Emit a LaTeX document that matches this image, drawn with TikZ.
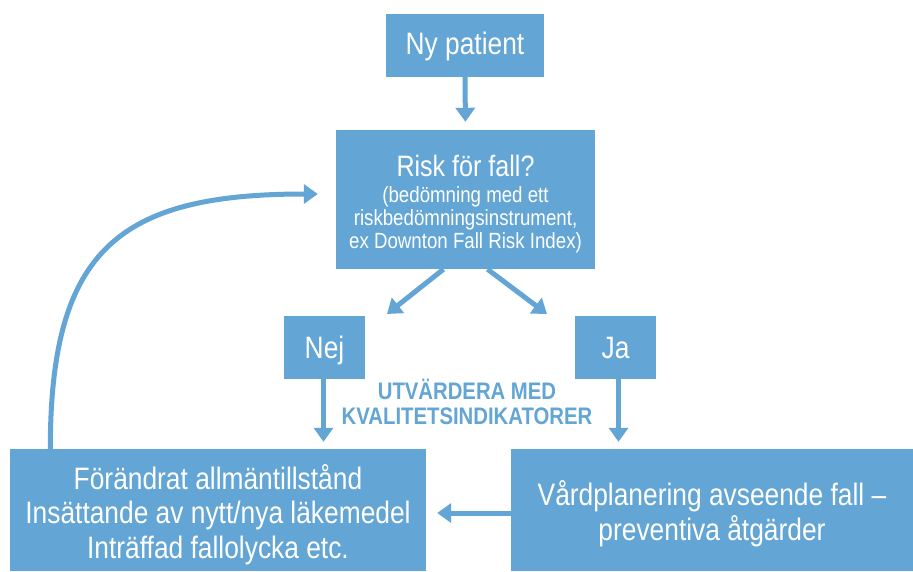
\documentclass[tikz,border=0pt]{standalone}
\usepackage{fontspec}
\setmainfont[FakeStretch=0.85]{Liberation Sans}
\usetikzlibrary{arrows.meta}
\definecolor{fallblue}{RGB}{99,165,212}
\newcommand{\hst}[1]{\rule{0pt}{#1pt}}
\newcommand{\dst}[1]{\rule[-#1pt]{0pt}{#1pt}}
\begin{document}
\begin{tikzpicture}[x=1pt,y=-1pt,
  box/.style={fill=fallblue, text=white, inner sep=0pt, align=center,
              font=\fontsize{31}{34.5}\selectfont},
  arr/.style={draw=fallblue, line width=5pt, -{Triangle[width=19pt,length=14pt]}},
]
\useasboundingbox (0,0) rectangle (913,572);
\fill[white] (0,0) rectangle (913,572);

\node[box, minimum width=158pt, minimum height=63pt] (ny) at (465,45.5)
  {\hst{27}\dst{8}Ny patient};
\node[box, minimum width=259pt, minimum height=139pt,
      font=\fontsize{22}{23.5}\selectfont] (risk) at (465.5,199.5)
  {\hst{33.5}{\fontsize{29.5}{23.5}\selectfont Risk för fall?}\\[2pt]
   (bedömning med ett\\
   riskbedömningsinstrument,\\
   ex Downton Fall Risk Index)\dst{7}};
\node[box, minimum width=81pt, minimum height=63pt] (nej) at (324.5,347.5)
  {\hst{29}\dst{8}Nej};
\node[box, minimum width=81pt, minimum height=63pt] (ja) at (615.5,347.5)
  {\hst{29}\dst{8}Ja};
\node[box, minimum width=416pt, minimum height=122pt] (bl) at (218,510)
  {\hst{35}Förändrat allmäntillstånd\\
   Insättande av nytt/nya läkemedel\\
   Inträffad fallolycka etc.\dst{8}};
\node[box, minimum width=402pt, minimum height=122pt,
      font=\fontsize{31}{35}\selectfont] (br) at (712,510)
  {\hst{33}Vårdplanering avseende fall –\\
   preventiva åtgärder\dst{8}};
\node[text=fallblue, align=center, inner sep=0pt,
      font=\bfseries\fontsize{23.9}{25}\selectfont] (eval) at (467,405)
  {\hst{22}UTVÄRDERA MED\\KVALITETSINDIKATORER\dst{9}};

\coordinate (tipL) at (387,314);
\coordinate (tipR) at (547,314);

\draw[arr, shorten >=8pt] (ny.south) -- (risk.north);
\draw[arr] ([xshift=-22pt]risk.south) -- (tipL);
\draw[arr] ([xshift=22pt]risk.south) -- (tipR);
\draw[arr, shorten >=7pt] ([xshift=-1pt]nej.south) -- ([xshift=-1pt]nej.south |- bl.north);
\draw[arr, shorten >=7pt] ([xshift=3pt]ja.south) -- ([xshift=3pt]ja.south |- br.north);
\draw[arr, shorten >=11pt] ([yshift=-3pt]br.west) -- ([yshift=-3pt]bl.east);
\draw[arr, shorten >=18pt] ([xshift=40.5pt]bl.north west)
  .. controls +(0,-200) and +(-216,0) .. ([yshift=5.5pt]risk.west);
\end{tikzpicture}
\end{document}
